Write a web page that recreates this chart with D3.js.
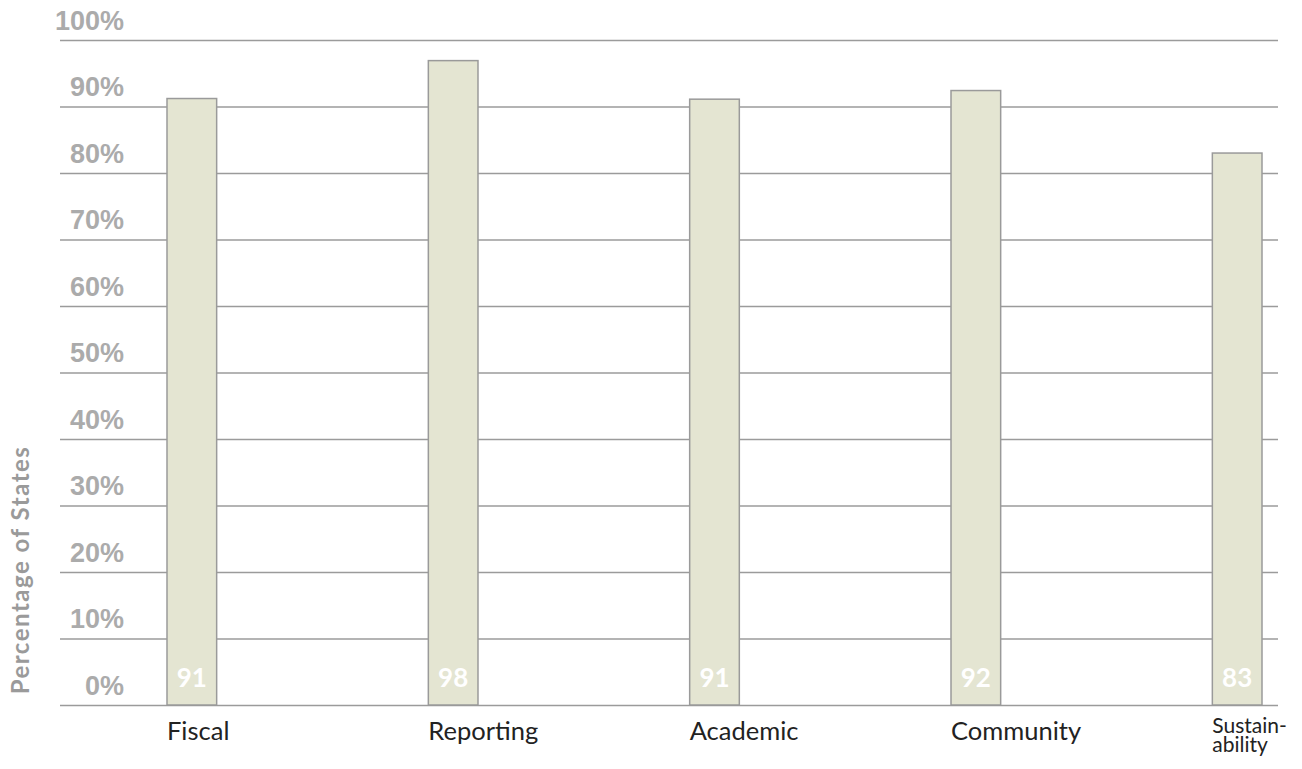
<!DOCTYPE html>
<html>
<head>
<meta charset="utf-8">
<script src="https://cdn.jsdelivr.net/npm/d3@7"></script>
<style>
  html, body { margin: 0; padding: 0; background: #fff; }
  svg { display: block; font-family: Lato, "Open Sans", sans-serif; }
  .grid line { stroke: #9b9b9b; stroke-width: 1.6; }
  .grid path { display: none; }
  .grid text { fill: #ababab; font-weight: 700; font-size: 27px; }
  .bar { fill: #e4e5d2; stroke: #9a9a9a; stroke-width: 1.5; }
  .val { fill: #fff; font-weight: 700; font-size: 26px; text-anchor: middle; }
  .cat { fill: #222; font-size: 25.5px; }
  .ytitle { fill: #9a9a9a; font-weight: 700; font-size: 24px; letter-spacing: 1.5px; }
</style>
</head>
<body>
<svg id="chart" width="1302" height="769"></svg>
<script>
// Share of states per category (bar heights as drawn, labels as printed)
const categories = ["Fiscal", "Reporting", "Academic", "Community", "Sustainability"];
const catLabels  = [["Fiscal"], ["Reporting"], ["Academic"], ["Community"], ["Sustain-", "ability"]];
const values     = [91.2, 96.9, 91.1, 92.4, 83.0];
const valueLabels = ["91", "98", "91", "92", "83"];
const yTicks     = [0, 10, 20, 30, 40, 50, 60, 70, 80, 90, 100];

const svg = d3.select("#chart");

const gridLeft = 60, gridRight = 1278;
const y = d3.scaleLinear().domain([0, 100]).range([705, 40]);
const x = d3.scaleBand()
    .domain(categories)
    .range([167, 1262])
    .paddingInner(0.81)
    .paddingOuter(0);

// gridlines + tick labels
const grid = svg.append("g")
    .attr("class", "grid")
    .attr("transform", `translate(${gridRight},0)`)
    .call(d3.axisLeft(y)
        .tickValues(yTicks)
        .tickSize(gridRight - gridLeft)
        .tickFormat(d => d + "%"));
grid.selectAll("text")
    .attr("x", -(gridRight - 124))
    .attr("dy", "-0.4em")
    .attr("text-anchor", "end");

// bars
svg.append("g")
    .selectAll("rect")
    .data(values)
    .join("rect")
    .attr("class", "bar")
    .attr("x", (d, i) => x(categories[i]))
    .attr("y", d => y(d))
    .attr("width", x.bandwidth())
    .attr("height", d => y(0) - y(d));

// value labels at the bottom of each bar
svg.append("g")
    .selectAll("text")
    .data(valueLabels)
    .join("text")
    .attr("class", "val")
    .attr("x", (d, i) => x(categories[i]) + x.bandwidth() / 2)
    .attr("y", y(0) - 18)
    .text(d => d);

// category labels, left-aligned under the bars
const cat = svg.append("g")
    .selectAll("text")
    .data(catLabels)
    .join("text")
    .attr("class", "cat")
    .attr("x", (d, i) => x(categories[i]))
    .attr("y", d => d.length > 1 ? 733 : 740)
    .style("font-size", d => d.length > 1 ? "21px" : null);
cat.selectAll("tspan")
    .data(d => d)
    .join("tspan")
    .attr("x", function () { return this.parentNode.getAttribute("x"); })
    .attr("dy", (d, i) => i ? 19 : 0)
    .text(d => d);

// y axis title
svg.append("text")
    .attr("class", "ytitle")
    .attr("transform", "translate(29,570) rotate(-90)")
    .attr("text-anchor", "middle")
    .text("Percentage of States");
</script>
</body>
</html>
